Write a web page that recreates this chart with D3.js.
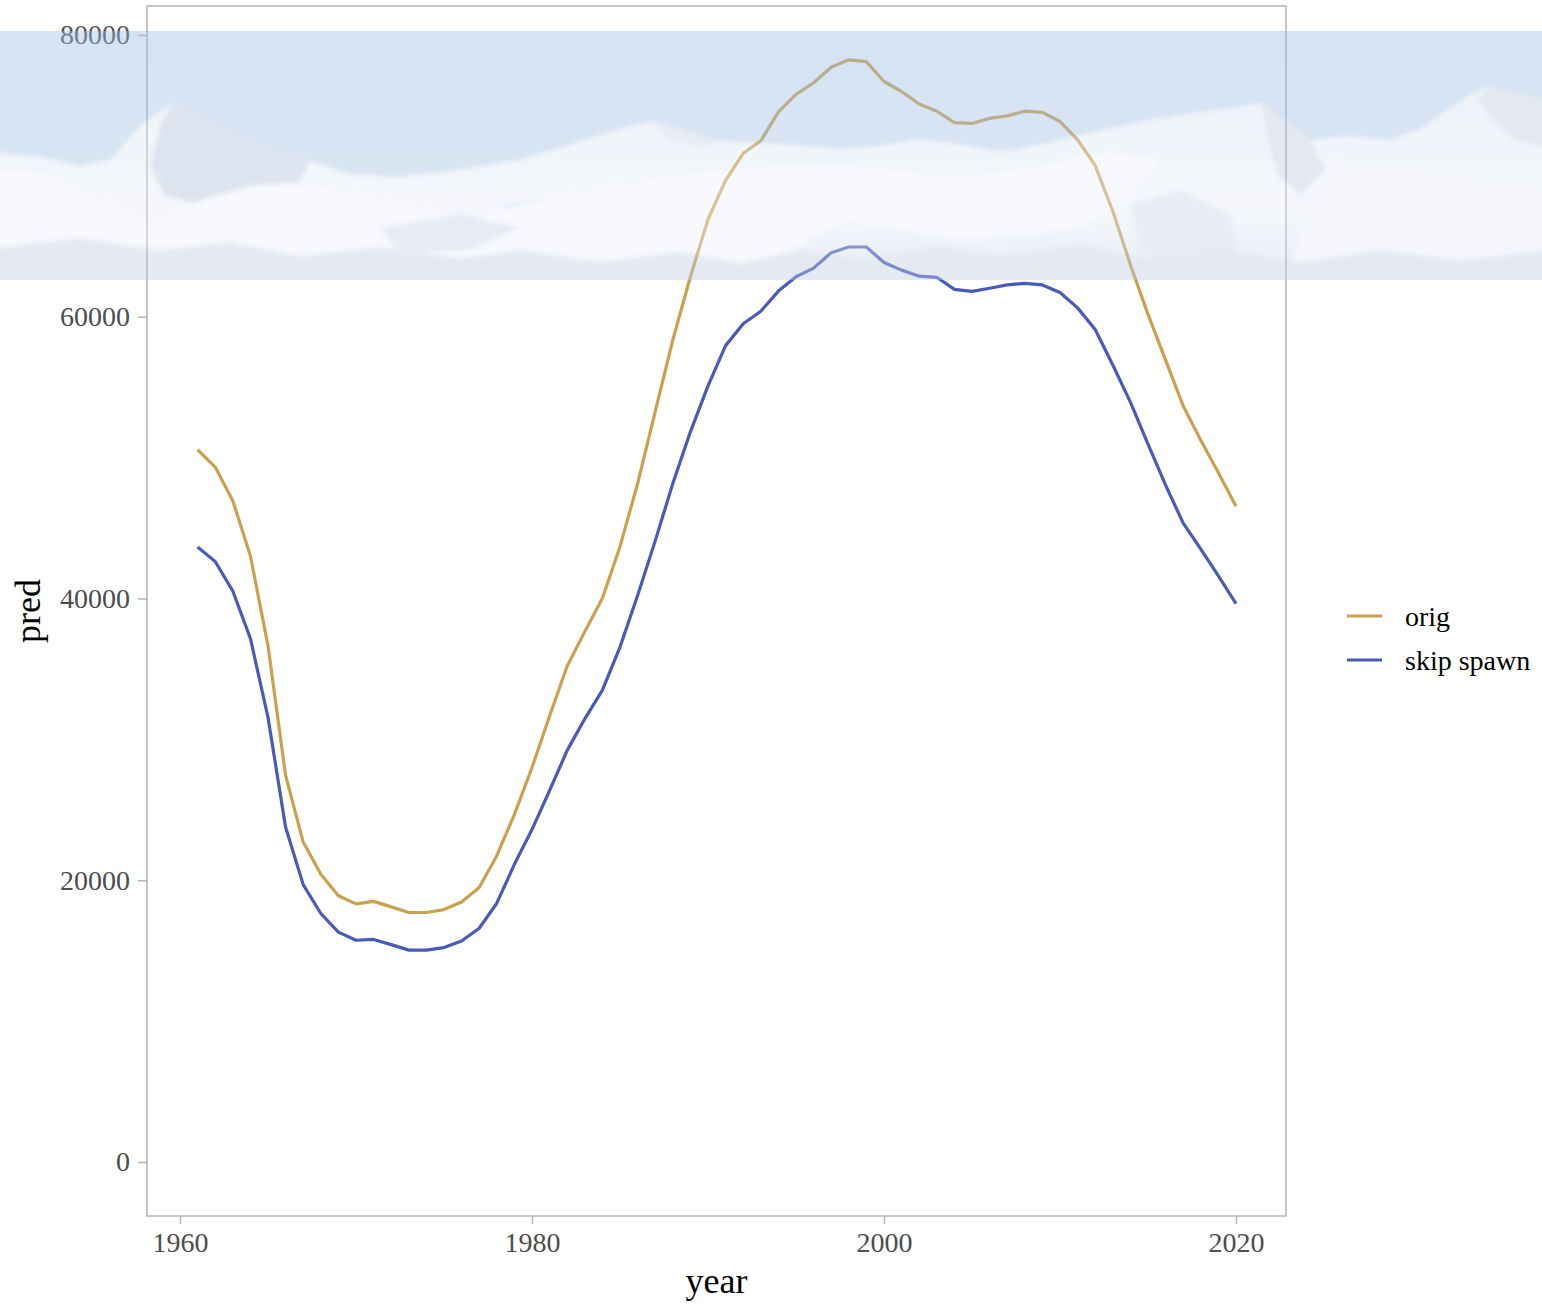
<!DOCTYPE html>
<html>
<head>
<meta charset="utf-8">
<script src="https://cdn.jsdelivr.net/npm/d3@7"></script>
<style>
  html, body { margin: 0; padding: 0; background: #ffffff; }
  svg { display: block; }
  text { font-family: "Liberation Serif", "Times New Roman", serif; }
</style>
</head>
<body>
<svg id="chart" width="1542" height="1304"></svg>
<script>
const years = [1961,1962,1963,1964,1965,1966,1967,1968,1969,1970,
  1971,1972,1973,1974,1975,1976,1977,1978,1979,1980,
  1981,1982,1983,1984,1985,1986,1987,1988,1989,1990,
  1991,1992,1993,1994,1995,1996,1997,1998,1999,2000,
  2001,2002,2003,2004,2005,2006,2007,2008,2009,2010,
  2011,2012,2013,2014,2015,2016,2017,2018,2019,2020];

const origValues = [50560,49330,46940,43020,36640,27440,22710,20420,18900,18320,
  18500,18110,17710,17710,17920,18450,19480,21740,24680,28000,
  31660,35210,37650,40020,43680,48160,53260,58350,62840,66910,
  69680,71600,72490,74540,75790,76610,77710,78240,78110,76700,
  75990,75100,74590,73780,73720,74080,74260,74590,74510,73860,
  72560,70740,67490,63700,60170,56920,53670,51230,48930,46550];

const skipSpawnValues = [43650,42630,40530,37160,31560,23760,19690,17640,16320,15740,
  15800,15430,15040,15040,15220,15690,16590,18370,21130,23600,
  26370,29220,31460,33490,36550,40220,44090,48160,51830,55090,
  57950,59500,60390,61820,62840,63450,64550,64950,64950,63850,
  63310,62880,62800,61940,61800,62020,62260,62370,62260,61720,
  60630,59090,56570,53940,50960,48040,45350,43510,41610,39630];

const seriesNames = ["orig", "skip spawn"];
const seriesColors = ["#c9a14f", "#4a5ab7"];
const xTicks = [1960, 1980, 2000, 2020];
const yTicks = [0, 20000, 40000, 60000, 80000];
const xTitle = "year";
const yTitle = "pred";

const svg = d3.select("#chart");
const panel = {left: 147, right: 1286, top: 6, bottom: 1216};

const x = d3.scaleLinear().domain([1960, 2020]).range([180, 1236]);
const y = d3.scaleLinear().domain([0, 80000]).range([1162, 35]);

// panel border
svg.append("rect")
  .attr("x", panel.left).attr("y", panel.top)
  .attr("width", panel.right - panel.left).attr("height", panel.bottom - panel.top)
  .attr("fill", "none").attr("stroke", "#b8b8b8").attr("stroke-width", 1.6);

// y axis
const yAxis = svg.append("g")
  .attr("transform", `translate(${panel.left},0)`)
  .call(d3.axisLeft(y).tickValues(yTicks).tickFormat(d3.format("d")).tickSize(9).tickPadding(8));
yAxis.select(".domain").remove();
yAxis.selectAll(".tick line").attr("stroke", "#b8b8b8").attr("stroke-width", 1.6);
yAxis.selectAll(".tick text")
  .attr("fill", "#4d4d4d").attr("font-size", 28)
  .style("font-family", '"Liberation Serif", "Times New Roman", serif');

// x axis
const xAxis = svg.append("g")
  .attr("transform", `translate(0,${panel.bottom})`)
  .call(d3.axisBottom(x).tickValues(xTicks).tickFormat(d3.format("d")).tickSize(8).tickPadding(8));
xAxis.select(".domain").remove();
xAxis.selectAll(".tick line").attr("stroke", "#b8b8b8").attr("stroke-width", 1.6);
xAxis.selectAll(".tick text")
  .attr("fill", "#4d4d4d").attr("font-size", 28)
  .style("font-family", '"Liberation Serif", "Times New Roman", serif');

// axis titles
svg.append("text")
  .attr("x", (panel.left + panel.right) / 2).attr("y", 1293)
  .attr("text-anchor", "middle").attr("font-size", 36).attr("fill", "#000")
  .text(xTitle);
svg.append("text")
  .attr("transform", `translate(40,${(panel.top + panel.bottom) / 2}) rotate(-90)`)
  .attr("text-anchor", "middle").attr("font-size", 36).attr("fill", "#000")
  .text(yTitle);

// lines
const series = [origValues, skipSpawnValues];
const line = d3.line().x((d, i) => x(years[i])).y(d => y(d));
series.forEach((vals, k) => {
  svg.append("path")
    .datum(vals)
    .attr("d", line)
    .attr("fill", "none")
    .attr("stroke", seriesColors[k])
    .attr("stroke-width", 3.2)
    .attr("stroke-linejoin", "round");
});

// legend
const legend = svg.append("g").attr("transform", "translate(1347,616)");
seriesNames.forEach((name, k) => {
  const g = legend.append("g").attr("transform", `translate(0,${k * 44})`);
  g.append("line").attr("x1", 0).attr("x2", 35).attr("y1", 0).attr("y2", 0)
    .attr("stroke", seriesColors[k]).attr("stroke-width", 3.2);
  g.append("text").attr("x", 58).attr("y", 9.5)
    .attr("font-size", 28).attr("fill", "#000").text(name);
});

// decorative mountain banner overlay (semi-transparent, drawn over the plot)
const defs = svg.append("defs");
const grad = defs.append("linearGradient").attr("id", "sky").attr("x1", 0).attr("x2", 0).attr("y1", 0).attr("y2", 1);
grad.append("stop").attr("offset", "0%").attr("stop-color", "#a0bde2");
grad.append("stop").attr("offset", "100%").attr("stop-color", "#aac5e6");
const snow = defs.append("linearGradient").attr("id", "snow").attr("x1", 0).attr("x2", 0).attr("y1", 0).attr("y2", 1);
snow.append("stop").attr("offset", "0%").attr("stop-color", "#d9e2f1");
snow.append("stop").attr("offset", "60%").attr("stop-color", "#e6ecf6");
snow.append("stop").attr("offset", "100%").attr("stop-color", "#c9d4e8");
const blur = defs.append("filter").attr("id", "soft").attr("x", "-5%").attr("y", "-20%").attr("width", "110%").attr("height", "140%");
blur.append("feGaussianBlur").attr("stdDeviation", 2.2);
defs.append("clipPath").attr("id", "bandclip").append("rect")
  .attr("x", 0).attr("y", 31).attr("width", 1542).attr("height", 249);

const band = svg.append("g").attr("opacity", 0.42).attr("clip-path", "url(#bandclip)");
band.append("rect").attr("x", 0).attr("y", 31).attr("width", 1542).attr("height", 249).attr("fill", "url(#sky)");

const art = band.append("g").attr("filter", "url(#soft)");
const poly = (pts, fill) => art.append("path")
  .attr("d", "M" + pts.map(p => p.join(",")).join("L") + "Z").attr("fill", fill);

// far range
poly([[-10,152],[40,157],[80,166],[110,160],[140,126],[173,102],[200,117],[230,134],[270,150],[310,161],
  [350,174],[400,177],[460,170],[520,160],[560,148],[600,135],[630,126],[655,121],[690,133],[720,141],
  [780,144],[840,149],[880,146],[920,139],[960,145],[1000,152],[1040,145],[1080,135],[1150,120],[1200,112],
  [1240,107],[1262,103],[1290,124],[1310,140],[1350,136],[1390,140],[1420,129],[1450,108],[1470,95],
  [1490,86],[1515,93],[1552,100],[1552,290],[-10,290]], "url(#snow)");

// shaded faces
poly([[173,102],[200,117],[230,134],[270,150],[310,161],[300,182],[255,200],[205,206],[165,196],[150,165],[160,125]], "#b2c1da");
poly([[1262,103],[1290,124],[1310,140],[1325,170],[1300,195],[1278,175],[1268,140]], "#bfcbe0");
poly([[1490,86],[1515,93],[1552,100],[1552,150],[1515,140],[1490,118],[1478,98]], "#bfcbe0");
poly([[655,121],[690,133],[720,141],[700,148],[665,138]], "#c9d3e6");
poly([[505,205],[560,196],[615,214],[640,250],[600,290],[505,290]], "#c4cfe3");
poly([[1130,205],[1180,190],[1230,215],[1240,260],[1180,275],[1140,250]], "#c9d3e6");

// front hills (bright snow)
poly([[-10,168],[50,174],[100,198],[150,220],[205,199],[250,186],[295,183],[345,190],[410,205],[465,220],
  [520,205],[600,186],[680,174],[760,166],[840,164],[900,170],[950,178],[1000,172],[1060,162],[1110,152],
  [1160,160],[1130,200],[1080,228],[1020,236],[960,240],[900,230],[850,222],[810,238],[780,262],[760,290],[-10,290]], "#edf1f8");
poly([[1330,160],[1380,168],[1430,172],[1480,182],[1552,190],[1552,290],[1290,290],[1300,230]], "#e7ecf6");

// lower shading / texture
poly([[-10,248],[80,238],[160,250],[230,242],[300,256],[380,247],[460,258],[520,250],[600,262],[680,252],
  [740,263],[800,250],[860,258],[940,246],[1000,256],[1080,244],[1150,258],[1220,248],[1300,262],
  [1380,250],[1460,260],[1552,250],[1552,290],[-10,290]], "#c2cde2");
poly([[380,228],[460,214],[520,228],[470,250],[400,254]], "#c8d2e5");
</script>
</body>
</html>
